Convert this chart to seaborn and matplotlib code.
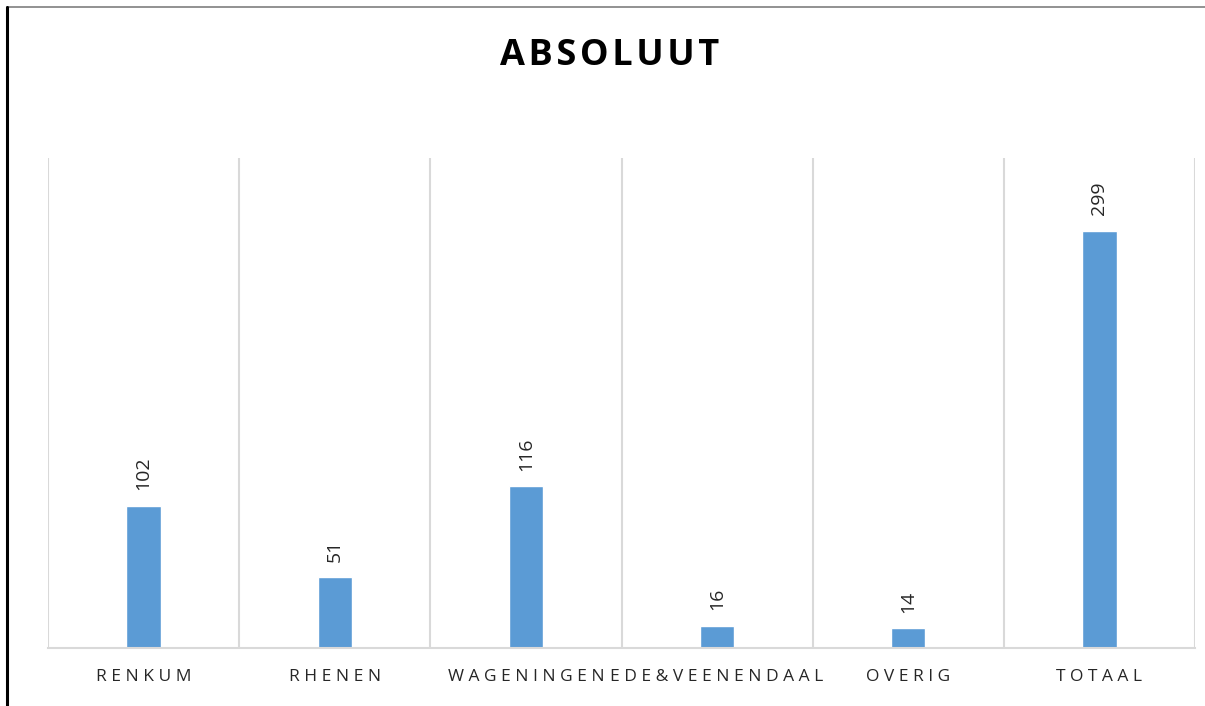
import matplotlib.pyplot as plt
import seaborn as sns
import pandas as pd
from matplotlib.lines import Line2D

# data
categories = ['RENKUM', 'RHENEN', 'WAGENINGEN', 'EDE & VEENENDAAL', 'OVERIG', 'TOTAAL']
values = [102, 51, 116, 16, 14, 299]

df = pd.DataFrame({'gemeente': categories, 'aantal': values})


def spaced(s, sep=' '):
    # Excel-style letter spacing
    return sep.join(s.replace(' & ', '&'))


sns.set_theme(style='white')
plt.rcParams['font.family'] = ['Open Sans', 'DejaVu Sans']

fig = plt.figure(figsize=(12.05, 7.06), dpi=100)
ax = fig.add_axes([48 / 1205, 58 / 706, 1147 / 1205, 490 / 706])

sns.barplot(df, x='gemeente', y='aantal', color='#5B9BD5', width=0.18,
            saturation=1, ax=ax)
ax.bar_label(ax.containers[0], rotation=90, padding=11, fontsize=14,
             color='#262626')

ax.set_ylim(0, 351)
ax.set_xlim(-0.5, len(categories) - 0.5)
ax.set_yticks([])
ax.set_xticks(range(len(categories)))
ax.set_xticklabels([spaced(c) for c in categories], fontsize=12.5, color='#262626')
ax.tick_params(axis='x', length=0, pad=15)
ax.set_xticks([i - 0.5 for i in range(len(categories) + 1)], minor=True)
ax.grid(which='minor', axis='x', color='#D9D9D9', linewidth=1.5)
ax.set_xlabel('')
ax.set_ylabel('')
for side in ['top', 'left', 'right']:
    ax.spines[side].set_visible(False)
ax.spines['bottom'].set_color('#D9D9D9')
ax.spines['bottom'].set_linewidth(1.5)

fig.text(0.506, 1 - 56 / 706, spaced('ABSOLUUT', '\u200a'), ha='center',
         va='center', fontsize=26, fontweight='bold', color='black')

# outer frame lines
fig.add_artist(Line2D([7 / 1205, 1], [1 - 7 / 706, 1 - 7 / 706],
                      color='#7F7F7F', linewidth=1.2))
fig.add_artist(Line2D([7 / 1205, 7 / 1205], [0, 1 - 7 / 706],
                      color='black', linewidth=2.2))

fig.savefig('out.png', dpi=100)
